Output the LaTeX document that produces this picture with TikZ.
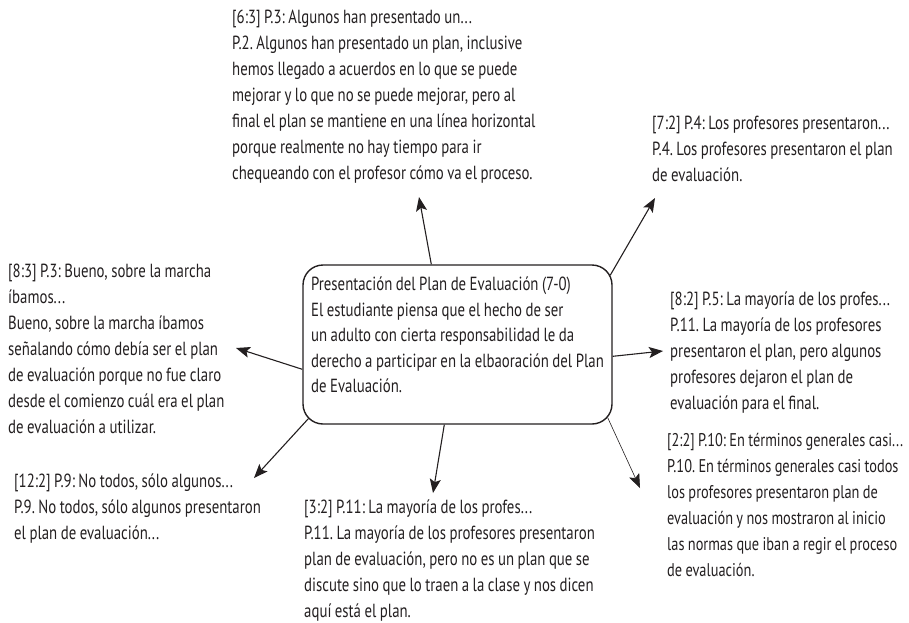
\documentclass[tikz,border=0pt]{standalone}
\usepackage{fontspec}
\setmainfont{PT Sans}[FakeStretch=0.78, WordSpace=0.88]
\usetikzlibrary{arrows.meta,calc}
\definecolor{ink}{RGB}{35,31,32}
\frenchspacing
\begin{document}
\begin{tikzpicture}[x=1pt,y=-1pt,
  txt/.style={anchor=north west, inner sep=0pt, align=left, text=ink,
    font=\fontsize{19}{26}\selectfont\frenchspacing},
  mainbox/.style={draw=ink, line width=1.4pt, rounded corners=20pt,
    minimum width=309pt, minimum height=159pt, inner sep=0pt,
    align=left, text=ink, font=\fontsize{19}{25.5}\selectfont\frenchspacing},
  conn/.style={draw=ink, line width=1.1pt, -{Stealth[length=14pt,width=11pt,inset=3pt]}},
  thinconn/.style={draw=ink, line width=0.6pt, -{Stealth[length=14pt,width=11pt,inset=3pt]}}
]
\useasboundingbox (0,0) rectangle (909,622);

\node[mainbox] (box) at (457.5,344.5) {Presentación del Plan de Evaluación (7-0)\\
El estudiante piensa que el hecho de ser\\
un adulto con cierta responsabilidad le da\\
derecho a participar en la elbaoración del Plan\\
de Evaluación.\\[-6pt]};

\node[txt] (t63) at (232,10) {[6:3] P.3: Algunos han presentado un...\\
P.2. Algunos han presentado un plan, inclusive\\
hemos llegado a acuerdos en lo que se puede\\
mejorar y lo que no se puede mejorar, pero al\\
final el plan se mantiene en una línea horizontal\\
porque realmente no hay tiempo para ir\\
chequeando con el profesor cómo va el proceso.};

\node[txt] (t72) at (652,116) {[7:2] P.4: Los profesores presentaron...\\
P.4. Los profesores presentaron el plan\\
de evaluación.};

\node[txt] (t83) at (8,264) {[8:3] P.3: Bueno, sobre la marcha\\
íbamos...\\
Bueno, sobre la marcha íbamos\\
señalando cómo debía ser el plan\\
de evaluación porque no fue claro\\
desde el comienzo cuál era el plan\\
de evaluación a utilizar.};

\node[txt] (t82) at (670,292) {[8:2] P.5: La mayoría de los profes...\\
P.11. La mayoría de los profesores\\
presentaron el plan, pero algunos\\
profesores dejaron el plan de\\
evaluación para el final.};

\node[txt, font=\fontsize{18.4}{26}\selectfont\frenchspacing] (t22) at (667,433) {[2:2] P.10: En términos generales casi...\\
P.10. En términos generales casi todos\\
los profesores presentaron plan de\\
evaluación y nos mostraron al inicio\\
las normas que iban a regir el proceso\\
de evaluación.};

\node[txt] (t122) at (14,474) {[12:2] P.9: No todos, sólo algunos...\\
P.9. No todos, sólo algunos presentaron\\
el plan de evaluación...};

\node[txt] (t32) at (304,500) {[3:2] P.11: La mayoría de los profes...\\
P.11. La mayoría de los profesores presentaron\\
plan de evaluación, pero no es un plan que se\\
discute sino que lo traen a la clase y nos dicen\\
aquí está el plan.};

\coordinate (a63) at (419,197);
\coordinate (a72) at (655,198);
\coordinate (a82) at (663,351);
\coordinate (a83) at (236,348);
\coordinate (a122) at (254,478);
\coordinate (a32) at (433,493);
\coordinate (a22) at (640,488);

\draw[conn] ($(box.north west)+(129,0)$) -- (a63);
\draw[conn] ($(box.north east)+(-2.5,11)$) -- (a72);
\draw[conn] ($(box.north east)+(0,92)$) -- (a82);
\draw[conn] ($(box.north west)+(0,105)$) -- (a83);
\draw[conn] ($(box.south west)+(6,-6)$) -- (a122);
\draw[conn] ($(box.south west)+(142,0)$) -- (a32);
\draw[thinconn] ($(box.south east)+(-5,-7)$) -- (a22);
\end{tikzpicture}
\end{document}
